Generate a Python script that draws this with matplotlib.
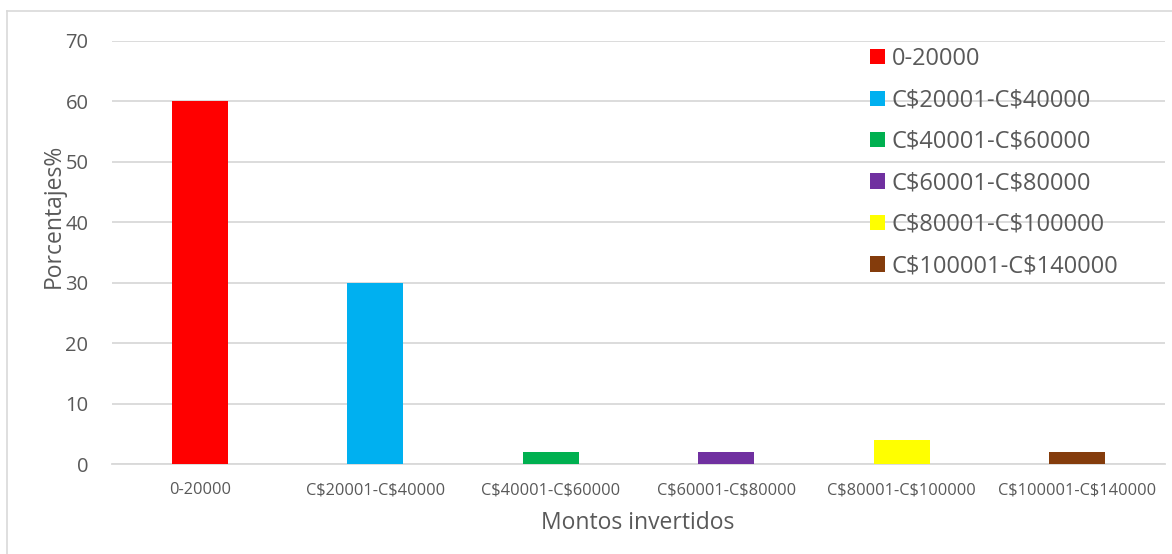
import matplotlib.pyplot as plt
import numpy as np
from matplotlib.lines import Line2D

# datos
categorias = ['0-20000', 'C$20001-C$40000', 'C$40001-C$60000',
              'C$60001-C$80000', 'C$80001-C$100000', 'C$100001-C$140000']
porcentajes = [60, 30, 2, 2, 4, 2]
colores = ['#ff0000', '#00b0f0', '#00b050', '#7030a0', '#ffff00', '#843c0c']

plt.rcParams['font.family'] = ['Open Sans', 'DejaVu Sans']
plt.rcParams['text.parse_math'] = False
gris = '#595959'

W, H = 1172, 554
fig = plt.figure(figsize=(W / 100, H / 100), dpi=100)
ax = fig.add_axes([112 / W, 1 - 464 / H, 1053 / W, 423 / H])

index = np.arange(len(categorias))
for i in index:
    ax.bar(index[i], porcentajes[i], 0.32, color=colores[i], label=categorias[i], zorder=3)

ax.set_xlim(-0.5, len(categorias) - 0.5)
ax.set_ylim(0, 70)
ax.set_yticks(np.arange(0, 71, 10))
ax.set_xticks(index)
ax.set_xticklabels(categorias, fontsize=11.8, color=gris)
ax.tick_params(axis='y', labelsize=14.5, colors=gris, length=0, pad=17)
ax.tick_params(axis='x', length=0, pad=13)
ax.grid(axis='y', color='#d9d9d9', linewidth=1.3, zorder=0)
for s in ['top', 'right', 'left']:
    ax.spines[s].set_visible(False)
ax.spines['bottom'].set_color('#d9d9d9')
ax.spines['bottom'].set_linewidth(1.3)

# titulos de ejes como en el original (el de y se monta sobre los numeros)
fig.text(54 / W, 1 - 216 / H, 'Porcentajes%', rotation=90, ha='center', va='center',
         fontsize=16.5, color=gris)
fig.text(638 / W, 1 - 523 / H, 'Montos invertidos', ha='center', va='center',
         fontsize=16.5, color=gris)

leg = ax.legend(loc='upper left', bbox_to_anchor=(870 / W, 1 - 47 / H),
                bbox_transform=fig.transFigure, frameon=False, borderpad=0,
                borderaxespad=0, fontsize=17, handlelength=0.62, handleheight=0.62,
                handletextpad=0.3, labelspacing=0.74, labelcolor=gris)

# borde del area del grafico
fig.add_artist(Line2D([7 / W, 7 / W], [0, 1 - 11 / H], transform=fig.transFigure,
                      color='#d9d9d9', linewidth=1.2))
fig.add_artist(Line2D([7 / W, 1], [1 - 11 / H, 1 - 11 / H], transform=fig.transFigure,
                      color='#d9d9d9', linewidth=1.2))

plt.savefig('out.png', dpi=100)
